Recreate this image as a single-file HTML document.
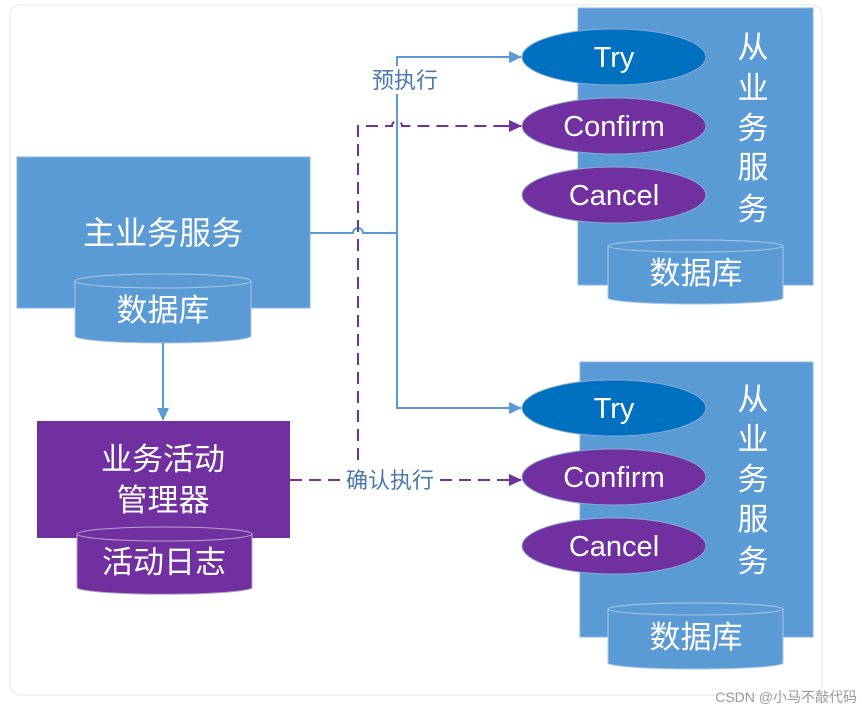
<!DOCTYPE html>
<html><head><meta charset="utf-8"><style>
body{margin:0;background:#fff;width:862px;height:711px;overflow:hidden;font-family:"Liberation Sans","Noto Sans CJK SC",sans-serif}
</style></head><body>
<svg width="862" height="711" xmlns="http://www.w3.org/2000/svg" font-family="Liberation Sans, Noto Sans CJK SC, sans-serif">
<defs>
<marker id="ab" markerWidth="14" markerHeight="14" refX="12" refY="7" orient="auto" markerUnits="userSpaceOnUse"><path d="M0,1 L13,7 L0,13z" fill="#5b9bd5"/></marker>
<marker id="ap" markerWidth="14" markerHeight="14" refX="12" refY="7" orient="auto" markerUnits="userSpaceOnUse"><path d="M0,1 L13,7 L0,13z" fill="#7030a0"/></marker>
</defs>
<rect x="10" y="5" width="812" height="690" rx="10" fill="#fff" stroke="#eee" stroke-width="1.5"/>
<rect x="17" y="157" width="293" height="151" fill="#5b9bd5" stroke="#8db3e0"/>
<text x="163" y="244" fill="#fff" font-size="32" text-anchor="middle">主业务服务</text>
<path d="M75,281 A88,7 0 0 1 251,281 V336 A88,7 0 0 1 75,336 Z" fill="#5b9bd5" stroke="#aac6e6"/>
<ellipse cx="163" cy="281" rx="88" ry="7" fill="#5b9bd5" stroke="#aac6e6"/>
<text x="163" y="321" fill="#fff" font-size="31" text-anchor="middle">数据库</text>
<line x1="163" y1="343" x2="163" y2="420" stroke="#5b9bd5" stroke-width="2" marker-end="url(#ab)"/>
<rect x="37" y="421" width="253" height="117" fill="#7030a0"/>
<text x="163" y="470" fill="#fff" font-size="31" text-anchor="middle">业务活动</text>
<text x="163" y="511" fill="#fff" font-size="31" text-anchor="middle">管理器</text>
<path d="M77,534 A88,7 0 0 1 252,534 V588 A88,7 0 0 1 77,588 Z" fill="#7030a0" stroke="#b9a2cc"/>
<ellipse cx="164.5" cy="534" rx="87.5" ry="7" fill="#7030a0" stroke="#b9a2cc"/>
<text x="164" y="573" fill="#fff" font-size="31" text-anchor="middle">活动日志</text>
<rect x="578" y="8" width="235" height="277" fill="#5b9bd5" stroke="#8db3e0"/>
<rect x="580" y="362" width="233" height="275" fill="#5b9bd5" stroke="#8db3e0"/>
<g fill="#fff" font-size="31" text-anchor="middle">
<text x="753" y="58">从</text><text x="753" y="99">业</text><text x="753" y="139">务</text><text x="753" y="178">服</text><text x="753" y="220">务</text>
<text x="753" y="410">从</text><text x="753" y="450">业</text><text x="753" y="490">务</text><text x="753" y="530">服</text><text x="753" y="572">务</text>
</g>
<g stroke="#8aa9d6" stroke-width="1">
<ellipse cx="614" cy="57" rx="92" ry="28" fill="#0070c0"/>
<ellipse cx="614" cy="126" rx="92" ry="28" fill="#7030a0"/>
<ellipse cx="614" cy="195" rx="92" ry="28" fill="#7030a0"/>
<ellipse cx="614" cy="408" rx="92" ry="28" fill="#0070c0"/>
<ellipse cx="614" cy="477" rx="92" ry="28" fill="#7030a0"/>
<ellipse cx="614" cy="546" rx="92" ry="28" fill="#7030a0"/>
</g>
<g fill="#fff" font-size="29" text-anchor="middle">
<text x="614" y="67">Try</text><text x="614" y="136">Confirm</text><text x="614" y="205">Cancel</text>
<text x="614" y="418">Try</text><text x="614" y="487">Confirm</text><text x="614" y="556">Cancel</text>
</g>
<path d="M608,246 A87.5,6 0 0 1 783,246 V298 A87.5,6 0 0 1 608,298 Z" fill="#5b9bd5" stroke="#aac6e6"/>
<ellipse cx="695.5" cy="246" rx="87.5" ry="6" fill="#5b9bd5" stroke="#aac6e6"/>
<text x="696" y="284" fill="#fff" font-size="31" text-anchor="middle">数据库</text>
<path d="M608,609 A87.5,6 0 0 1 783,609 V663 A87.5,6 0 0 1 608,663 Z" fill="#5b9bd5" stroke="#aac6e6"/>
<ellipse cx="695.5" cy="609" rx="87.5" ry="6" fill="#5b9bd5" stroke="#aac6e6"/>
<text x="696" y="648" fill="#fff" font-size="31" text-anchor="middle">数据库</text>
<path d="M310,233 H353 A5,5 0 0 1 363,233 H397" fill="none" stroke="#5b9bd5" stroke-width="2"/>
<path d="M520,57 H397 V408 H520" fill="none" stroke="#5b9bd5" stroke-width="2"/>
<line x1="505" y1="57" x2="521" y2="57" stroke="#5b9bd5" stroke-width="2" marker-end="url(#ab)"/>
<line x1="505" y1="408" x2="521" y2="408" stroke="#5b9bd5" stroke-width="2" marker-end="url(#ab)"/>
<rect x="366" y="66" width="78" height="28" fill="#fff"/>
<text x="405" y="88" fill="#4a78b0" font-size="22" text-anchor="middle">预执行</text>
<g fill="none" stroke="#7030a0" stroke-width="2" stroke-dasharray="12,7">
<path d="M358,460 V126 H392 A5,5 0 0 1 402,126 H510"/>
<path d="M290,480 H340"/>
<path d="M440,480 H510"/>
</g>
<line x1="505" y1="126" x2="521" y2="126" stroke="#7030a0" stroke-width="2" marker-end="url(#ap)"/>
<line x1="505" y1="480" x2="521" y2="480" stroke="#7030a0" stroke-width="2" marker-end="url(#ap)"/>
<text x="390" y="488" fill="#4a78b0" font-size="22" text-anchor="middle">确认执行</text>
<text x="857" y="702" fill="#999" font-size="14" text-anchor="end">CSDN @小马不敲代码</text>
</svg>
</body></html>
